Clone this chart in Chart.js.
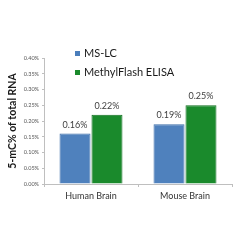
<!DOCTYPE html>
<html><head><meta charset="utf-8">
<script src="https://cdn.jsdelivr.net/npm/chart.js@4/dist/chart.umd.min.js"></script>
<style>
html,body{margin:0;padding:0;background:#fff;width:240px;height:240px;overflow:hidden}
#wrap{position:relative;width:240px;height:240px}
.lg{position:absolute;font-family:Lato,sans-serif;font-size:11px;color:#1a1a1a;white-space:nowrap;line-height:12px}
.lg i{display:inline-block;width:5px;height:5px;margin-right:4px;vertical-align:1px}
</style></head>
<body><div id="wrap"><canvas id="c" width="240" height="240"></canvas>
<div class="lg" style="left:75px;top:47px"><i style="background:#4a7ebb"></i>MS-LC</div>
<div class="lg" style="left:75px;top:66px"><i style="background:#1a8a2c"></i>MethylFlash ELISA</div>
</div>
<script>
const categories = ["Human Brain", "Mouse Brain"];
const seriesNames = ["MS-LC", "MethylFlash ELISA"];
const msLC = [0.16, 0.19];
const methylFlash = [0.22, 0.25];
const yTicks = [0, 0.05, 0.10, 0.15, 0.20, 0.25, 0.30, 0.35, 0.40];

const labelPlugin = {
  id: 'valLabels',
  afterDatasetsDraw(chart) {
    const ctx = chart.ctx;
    ctx.save();
    ctx.font = '9px Lato, sans-serif';
    ctx.fillStyle = '#404040';
    ctx.textAlign = 'center';
    ctx.textBaseline = 'middle';
    chart.data.datasets.forEach((ds, i) => {
      chart.getDatasetMeta(i).data.forEach((bar, j) => {
        ctx.fillText(ds.data[j].toFixed(2) + '%', bar.x, bar.y - 9);
      });
    });
    ctx.restore();
  }
};

new Chart(document.getElementById('c'), {
  type: 'bar',
  data: {
    labels: categories,
    datasets: [
      {label: seriesNames[0], data: msLC, backgroundColor: '#4f81bd', borderColor: '#3d6ea8', borderWidth: 1},
      {label: seriesNames[1], data: methylFlash, backgroundColor: '#1a8a2c', borderColor: '#0f6e1e', borderWidth: 1}
    ]
  },
  options: {
    responsive: false,
    animation: false,
    devicePixelRatio: 1,
    layout: {padding: {left: 0, right: 8, top: 58, bottom: 0}},
    plugins: {legend: {display: false}, tooltip: {enabled: false}},
    datasets: {bar: {categoryPercentage: 0.68, barPercentage: 0.97}},
    scales: {
      x: {
        grid: {drawOnChartArea: false, drawTicks: true, tickLength: 3, color: '#bfbfbf'},
        border: {color: '#bfbfbf'},
        ticks: {font: {family: 'Lato', size: 9}, color: '#333', padding: 4},
        afterFit: s => { s.height = 56; }
      },
      y: {
        min: 0, max: 0.4,
        afterBuildTicks: s => { s.ticks = yTicks.map(v => ({value: v})); },
        grid: {drawOnChartArea: false, drawTicks: true, tickLength: 2, color: '#bfbfbf'},
        border: {color: '#bfbfbf'},
        ticks: {font: {family: 'Lato', size: 5.5}, color: '#555', padding: 3,
                callback: v => v.toFixed(2) + '%'},
        title: {display: true, text: '5-mC% of total RNA', font: {family: 'Lato', size: 10.5, weight: 'bold'}, color: '#1a1a1a', padding: {top: 6, bottom: 0}},
        afterFit: s => { s.width = 44; }
      }
    }
  },
  plugins: [labelPlugin]
});
</script>
</body></html>
